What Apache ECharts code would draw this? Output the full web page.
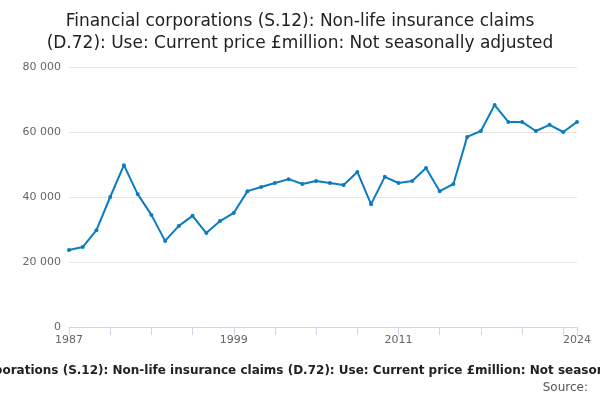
<!DOCTYPE html><html><head><meta charset="utf-8"><script src="https://cdn.jsdelivr.net/npm/echarts@6/dist/echarts.min.js"></script></head><body style="margin:0"><div id="c" style="width:600px;height:400px"></div><script>
const years=[];for(let y=1987;y<=2024;y++)years.push(String(y));
const values=[23700,24600,29800,40000,49800,40900,34500,26500,31100,34200,28900,32600,35100,41800,43100,44300,45500,44000,44900,44300,43700,47700,37800,46200,44300,44900,48900,41800,44000,58500,60300,68300,63100,63100,60300,62200,60000,63100];
const shown=['1987','1999','2011','2024'];
const c=echarts.init(document.getElementById('c'));
c.setOption({
title:{text:'Financial corporations (S.12): Non-life insurance claims\n(D.72): Use: Current price £million: Not seasonally adjusted',left:'center',top:6,textStyle:{fontFamily:'DejaVu Sans',fontWeight:'normal',fontSize:17,color:'#222',lineHeight:22}},
graphic:[{type:'text',left:'center',top:365,style:{text:'Financial corporations (S.12): Non-life insurance claims (D.72): Use: Current price £million: Not seasonally adjusted',font:'bold 12px DejaVu Sans',fill:'#222'}},
{type:'text',right:12,top:382,style:{text:'Source:',font:'12px DejaVu Sans',fill:'#555'}}],
grid:{left:69,right:23,top:67,bottom:73},
xAxis:{type:'category',data:years,boundaryGap:false,axisLine:{lineStyle:{color:'#ccd6eb'}},axisTick:{alignWithLabel:true,interval:(i)=>i%3===0||i===37,lineStyle:{color:'#ccd6eb'},length:8},axisLabel:{interval:(i,v)=>shown.includes(v),color:'#666',fontSize:11,fontFamily:'DejaVu Sans'}},
yAxis:{type:'value',min:0,max:80000,interval:20000,axisLabel:{color:'#666',fontSize:11,fontFamily:'DejaVu Sans',formatter:v=>v===0?'0':(v/1000)+' 000'},splitLine:{lineStyle:{color:'#e6e6e6'}}},
series:[{type:'line',data:values,color:'#0b7cc0',symbol:'circle',symbolSize:4,lineStyle:{width:2},itemStyle:{color:'#0b7cc0'}}]
});
</script></body></html>
